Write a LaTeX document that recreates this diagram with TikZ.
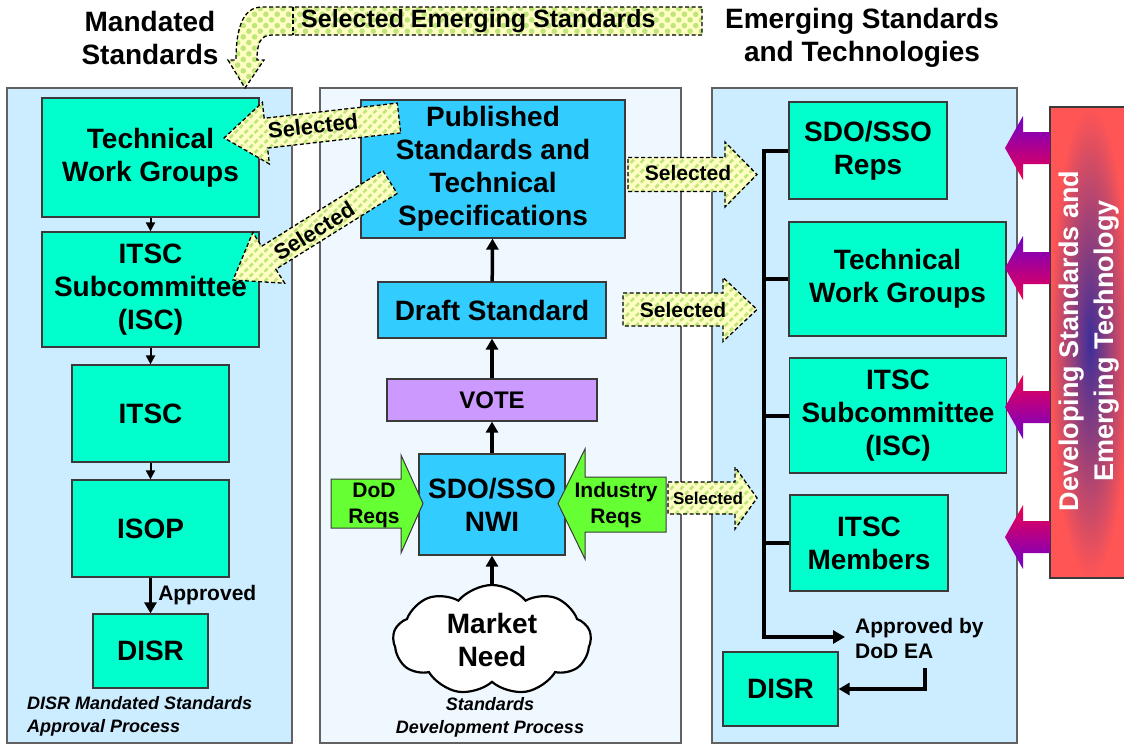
\documentclass[tikz,border=0pt]{standalone}
\usepackage{fontspec}
\setmainfont{Liberation Sans}
\usetikzlibrary{arrows.meta,shapes.symbols,patterns.meta}
\definecolor{panelA}{HTML}{CCECFF}
\definecolor{panelB}{HTML}{F0F8FF}
\definecolor{aqua}{HTML}{00FFCC}
\definecolor{skyb}{HTML}{33CCFF}
\definecolor{votec}{HTML}{CC99FF}
\definecolor{reqg}{HTML}{66FF33}
\definecolor{selbg}{HTML}{FFFFC4}
\definecolor{selln}{HTML}{BFE67A}
\definecolor{redbox}{HTML}{FF5555}
\definecolor{blob}{HTML}{3C2E9A}
\definecolor{arpur}{HTML}{7000CC}
\definecolor{arred}{HTML}{EE0050}
\definecolor{edge}{HTML}{3A3A3A}
\newcommand{\myfs}[2]{\fontsize{#1}{#2}\selectfont}
\newcommand{\fatarr}[5]{\path[#1] (0,-#3) -- ({#2-#5},-#3) -- ({#2-#5},-#4) -- (#2,0) -- ({#2-#5},#4) -- ({#2-#5},#3) -- (0,#3) -- cycle;}
\begin{document}
\begin{tikzpicture}[x=1pt,y=-1pt,
  box/.style={draw=edge, line width=1.2pt, align=center, inner sep=0pt, font=\bfseries\myfs{28}{33}},
  aq/.style={box, fill=aqua},
  sk/.style={box, fill=skyb},
  panelbox/.style={draw=edge!80, line width=1.2pt, inner sep=0pt},
  thinarr/.style={line width=2pt, -{Triangle[length=9pt,width=9pt]}},
  thickarr/.style={line width=3.5pt, -{Triangle[length=11pt,width=12pt]}},
  busline/.style={line width=4pt},
  seldash/.style={draw=black, line width=1.3pt, dash pattern=on 4pt off 2.5pt},
  selfill/.style={seldash, preaction={fill=selbg}, pattern={Lines[angle=45,distance=7pt,line width=2.6pt]}, pattern color=selln},
  selchk/.style={seldash, preaction={fill=selbg}, pattern={Dots[radius=2.8pt,distance=8pt,angle=45]}, pattern color=selln},
  seltxt/.style={font=\bfseries\myfs{21}{24}, inner sep=0pt},
  titletxt/.style={font=\bfseries\myfs{28}{33}, align=center, inner sep=0pt},
  captxt/.style={font=\bfseries\itshape\myfs{18}{23}, inner sep=0pt},
  reqtxt/.style={font=\bfseries\myfs{21}{26}, align=center, inner sep=0pt}
]
\useasboundingbox (0,0) rectangle (1124,744);
\fill[white] (0,0) rectangle (1124,744);

% panels
\node[panelbox, fill=panelA, minimum width=285, minimum height=655] (pL) at (149.5,415.5) {};
\node[panelbox, fill=panelB, minimum width=361, minimum height=655] (pM) at (500.5,415.5) {};
\node[panelbox, fill=panelA, minimum width=305, minimum height=655] (pR) at (864.5,415.5) {};

% titles
\node[titletxt] (tL) at (150,38) {Mandated\\Standards};
\node[titletxt] (tR) at (862,38) {Emerging Standards\\and Technologies};

% left column
\node[aq, minimum width=217, minimum height=119] (ltwg) at (150.5,157.5) {Technical\\Work Groups};
\node[aq, minimum width=217, minimum height=115] (lisc) at (150.5,289.5) {ITSC\\Subcommittee\\(ISC)};
\node[aq, minimum width=157, minimum height=97] (litsc) at (150.5,413.5) {ITSC};
\node[aq, minimum width=157, minimum height=97] (lisop) at (150.5,528.5) {ISOP};
\node[aq, minimum width=115, minimum height=74] (ldisr) at (150.5,651) {DISR};
\draw[thinarr] (ltwg) -- (lisc);
\draw[thinarr] (lisc) -- (litsc);
\draw[thinarr] (litsc) -- (lisop);
\draw[thickarr] (lisop) -- (ldisr) node[midway, right, xshift=6pt, font=\bfseries\myfs{21}{24}, inner sep=0pt] (appr) {Approved};
\node[captxt, align=left, anchor=west] (capL) at (27,716.5) {DISR Mandated Standards\\Approval Process};

% middle column
\node[sk, minimum width=264, minimum height=138] (pub) at (493,169) {Published\\Standards and\\Technical\\Specifications};
\node[sk, minimum width=228, minimum height=56] (draft) at (492,310) {Draft Standard};
\node[box, fill=votec, minimum width=210, minimum height=42, font=\bfseries\myfs{24}{28}] (vote) at (492,400) {VOTE};
\node[sk, minimum width=146, minimum height=101] (nwi) at (492,504.5) {SDO/SSO\\NWI};
\node[cloud, cloud puffs=9, cloud puff arc=100, aspect=1.8, draw=black, line width=2.2pt, fill=white,
      minimum width=198, minimum height=110, font=\bfseries\myfs{28}{33}, align=center, inner sep=0pt] (cloud) at (492,640) {Market\\Need};
\draw[thickarr] (cloud) -- (nwi);
\draw[thickarr] (nwi) -- (vote);
\draw[thickarr] (vote) -- (draft);
\draw[thickarr] (draft) -- (pub);
\node[captxt, align=center] (capM) at (490,717) {Standards\\Development Process};

% requirement arrows
\path[draw=edge, line width=1pt, fill=reqg] (331,479) -- (401,479) -- (401,455) -- (423,503.5) -- (401,553) -- (401,528) -- (331,528) -- cycle;
\node[reqtxt] (dodq) at (374,505) {DoD\\Reqs};
\path[draw=edge, line width=1pt, fill=reqg] (558,503.5) -- (585,449) -- (585,477) -- (666,477) -- (666,532) -- (585,532) -- (585,559) -- cycle;
\node[reqtxt] (indq) at (616,505) {Industry\\Reqs};

% right column
\node[aq, minimum width=158, minimum height=97] (sdo) at (868,150.5) {SDO/SSO\\Reps};
\node[aq, minimum width=217, minimum height=114] (rtwg) at (897.5,279) {Technical\\Work Groups};
\node[aq, minimum width=217, minimum height=115] (risc) at (898,415.5) {ITSC\\Subcommittee\\(ISC)};
\node[aq, minimum width=158, minimum height=96] (rmem) at (869,543) {ITSC\\Members};
\node[aq, minimum width=115, minimum height=74] (rdisr) at (780.5,689) {DISR};
\coordinate (busend) at (845,637);
\draw[busline, -{Triangle[length=12pt,width=13pt]}] (sdo.west) -- ++(-24,0) |- (busend);
\draw[busline] (rtwg.west) -- ++(-24,0);
\draw[busline] (risc.west) -- ++(-24,0);
\draw[busline] (rmem.west) -- ++(-24,0);
\node[font=\bfseries\myfs{21}{25}, align=left, anchor=west, inner sep=0pt] (apprby) at (855,638) {Approved by\\DoD EA};
\coordinate (elb) at (925,668);
\draw[thickarr] (elb) |- (rdisr.east);

% red box
\shade[inner color=blob, outer color=redbox] (1050,107) rectangle (1130,578);
\draw[edge, line width=1.2pt] (1130,107) -- (1050,107) -- (1050,578) -- (1130,578);
\node[rotate=90, text=white, font=\bfseries\myfs{27}{35}, align=center, inner sep=0pt] (devtxt) at (1089,341) {Developing Standards and\\Emerging Technology};
\foreach \cy/\ct/\cb in {148/arpur/arred, 268/arpur/arred, 407/arred/arpur, 537/arred/arpur}{
  \shade[top color=\ct, bottom color=\cb] (1050,\cy-16) -- (1023,\cy-16) -- (1023,\cy-32) -- (1005,\cy) -- (1023,\cy+32) -- (1023,\cy+16) -- (1050,\cy+16) -- cycle;
}

% big selected emerging standards arrow
\path[selchk] (702,7) -- (262,7) .. controls (243,7) and (236,28) .. (236,60) -- (228,60) -- (245,88) -- (264,60) -- (257,60) .. controls (257,44) and (260,35) .. (272,35) -- (702,35) -- cycle;
\draw[seldash] (293,7) -- (293,35);
\node[font=\bfseries\myfs{25}{28}, inner sep=0pt, anchor=west] (sest) at (301,21) {Selected Emerging Standards};

% selected arrows
\begin{scope}[shift={(399,118)}, rotate=186.5] \fatarr{selfill}{176}{15}{31}{42} \end{scope}
\node[seltxt, font=\bfseries\myfs{22}{24}, rotate=6.5] (s1) at (313,126) {Selected};
\begin{scope}[shift={(390,182)}, rotate=212] \fatarr{selfill}{185}{13.5}{30}{42} \end{scope}
\node[seltxt, font=\bfseries\myfs{22}{24}, rotate=32] (s2) at (314,231) {Selected};
\begin{scope}[shift={(628,174.5)}] \fatarr{selfill}{129}{17}{32.5}{32} \end{scope}
\node[seltxt] (s3) at (688,173) {Selected};
\begin{scope}[shift={(623,309.5)}] \fatarr{selfill}{134}{16.5}{32}{34} \end{scope}
\node[seltxt] (s4) at (683,310) {Selected};
\begin{scope}[shift={(668,498)}] \fatarr{selfill}{89}{16}{31}{22} \end{scope}
\node[seltxt, font=\bfseries\myfs{17}{20}] (s5) at (708,498) {Selected};
\end{tikzpicture}
\end{document}
